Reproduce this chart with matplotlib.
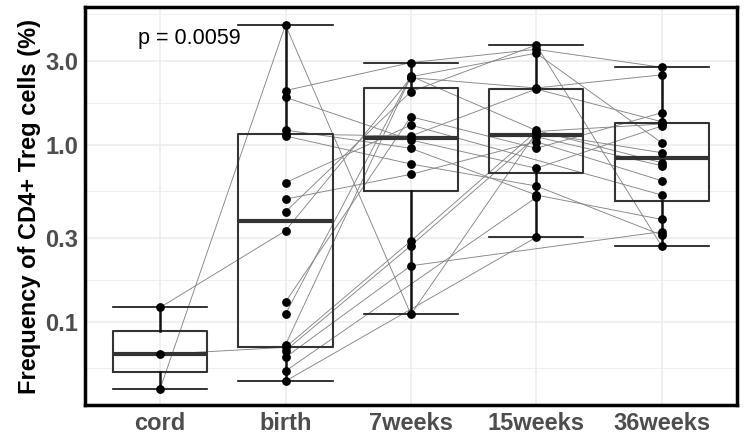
import numpy as np
import matplotlib
matplotlib.use("Agg")
import matplotlib.pyplot as plt
from matplotlib import cbook

plt.rcParams['font.family'] = ['Liberation Sans', 'DejaVu Sans']

groups = ['cord', 'birth', '7weeks', '15weeks', '36weeks']
nan = np.nan

# one entry per subject (NaN = not sampled)
cord = [0.042, nan, nan, nan, nan, nan, nan, nan, nan, 0.121,
        nan, nan, nan, 0.0657, nan, nan, nan, nan]
birth = [4.76, 2.03, 1.86, 1.215, 1.154, 1.124, 0.612, 0.495, 0.42, 0.328,
         0.130, 0.111, 0.0745, 0.072, 0.069, 0.0632, 0.0529, 0.0464]
wk7 = [0.1106, 2.92, 1.067, 0.958, 1.124, 0.781, 1.297, 0.683, 2.0, 2.40,
       1.445, 2.45, 2.43, 0.287, 0.270, 0.208, nan, nan]
wk15 = [1.174, 3.47, 0.739, 0.522, 2.07, 0.587, nan, 1.044, 3.67, 2.10,
        0.958, 1.208, 3.30, 1.192, 1.114, nan, 0.506, 0.301]
wk36 = [0.905, 2.75, 1.28, 0.380, 1.354, 0.310, 0.522, 0.629, 0.269, 2.49,
        1.52, 0.794, 1.03, 1.314, 0.764, 0.324, nan, nan]

p_text = 'p = 0.0059'

data = np.array([cord, birth, wk7, wk15, wk36]).T  # subjects x groups
xs = np.arange(len(groups))

fig = plt.figure(figsize=(7.45, 4.41), dpi=100)
ax = fig.add_axes([0.114, 0.0816, 0.875, 0.902])

# subject lines
for row in data:
    ok = ~np.isnan(row)
    ax.plot(xs[ok], row[ok], color='#858585', lw=0.65, zorder=2)

# boxplots computed on log scale, like scale_y_log10
stats = []
for j in range(len(groups)):
    col = data[:, j]
    col = col[~np.isnan(col)]
    s = cbook.boxplot_stats(np.log10(col), whis=1.5)[0]
    for k in ['med', 'q1', 'q3', 'whislo', 'whishi', 'mean']:
        s[k] = 10 ** s[k]
    s['fliers'] = []
    stats.append(s)

ax.bxp(stats, positions=xs, widths=0.75, capwidths=0.75, showfliers=False,
       boxprops=dict(color='#333333', lw=1.5),
       medianprops=dict(color='#333333', lw=3),
       whiskerprops=dict(color='#111111', lw=1.8),
       capprops=dict(color='#111111', lw=1.2),
       manage_ticks=False, zorder=3)

for j in range(len(groups)):
    col = data[:, j]
    col = col[~np.isnan(col)]
    ax.scatter(np.full(len(col), xs[j]), col, s=28, color='black', zorder=4)

ax.set_yscale('log')
ax.set_ylim(0.034, 6.0)
ax.set_xlim(-0.6, 4.6)
ax.set_yticks([0.1, 0.3, 1.0, 3.0])
ax.set_yticklabels(['0.1', '0.3', '1.0', '3.0'])
ax.set_yticks([0.0548, 0.173, 0.548, 1.73, 5.48], minor=True)
ax.yaxis.set_minor_formatter(plt.NullFormatter())
ax.set_xticks(xs)
ax.set_xticklabels(groups)

ax.grid(True, which='major', color='#ebebeb', lw=1.1, zorder=0)
ax.grid(True, which='minor', axis='y', color='#ebebeb', lw=0.6, zorder=0)
ax.set_axisbelow(True)

ax.tick_params(axis='both', which='both', length=0, labelsize=17, labelcolor='#4d4d4d', pad=5)
for lab in ax.get_xticklabels() + ax.get_yticklabels():
    lab.set_fontweight('bold')
for sp in ax.spines.values():
    sp.set_linewidth(2.5)
    sp.set_color('black')

ax.set_ylabel('Frequency of CD4+ Treg cells (%)', fontsize=17, fontweight='bold', labelpad=3)
ax.text(-0.18, 4.0, p_text, fontsize=15.5, va='center', ha='left')

fig.savefig('out.png', dpi=100)
